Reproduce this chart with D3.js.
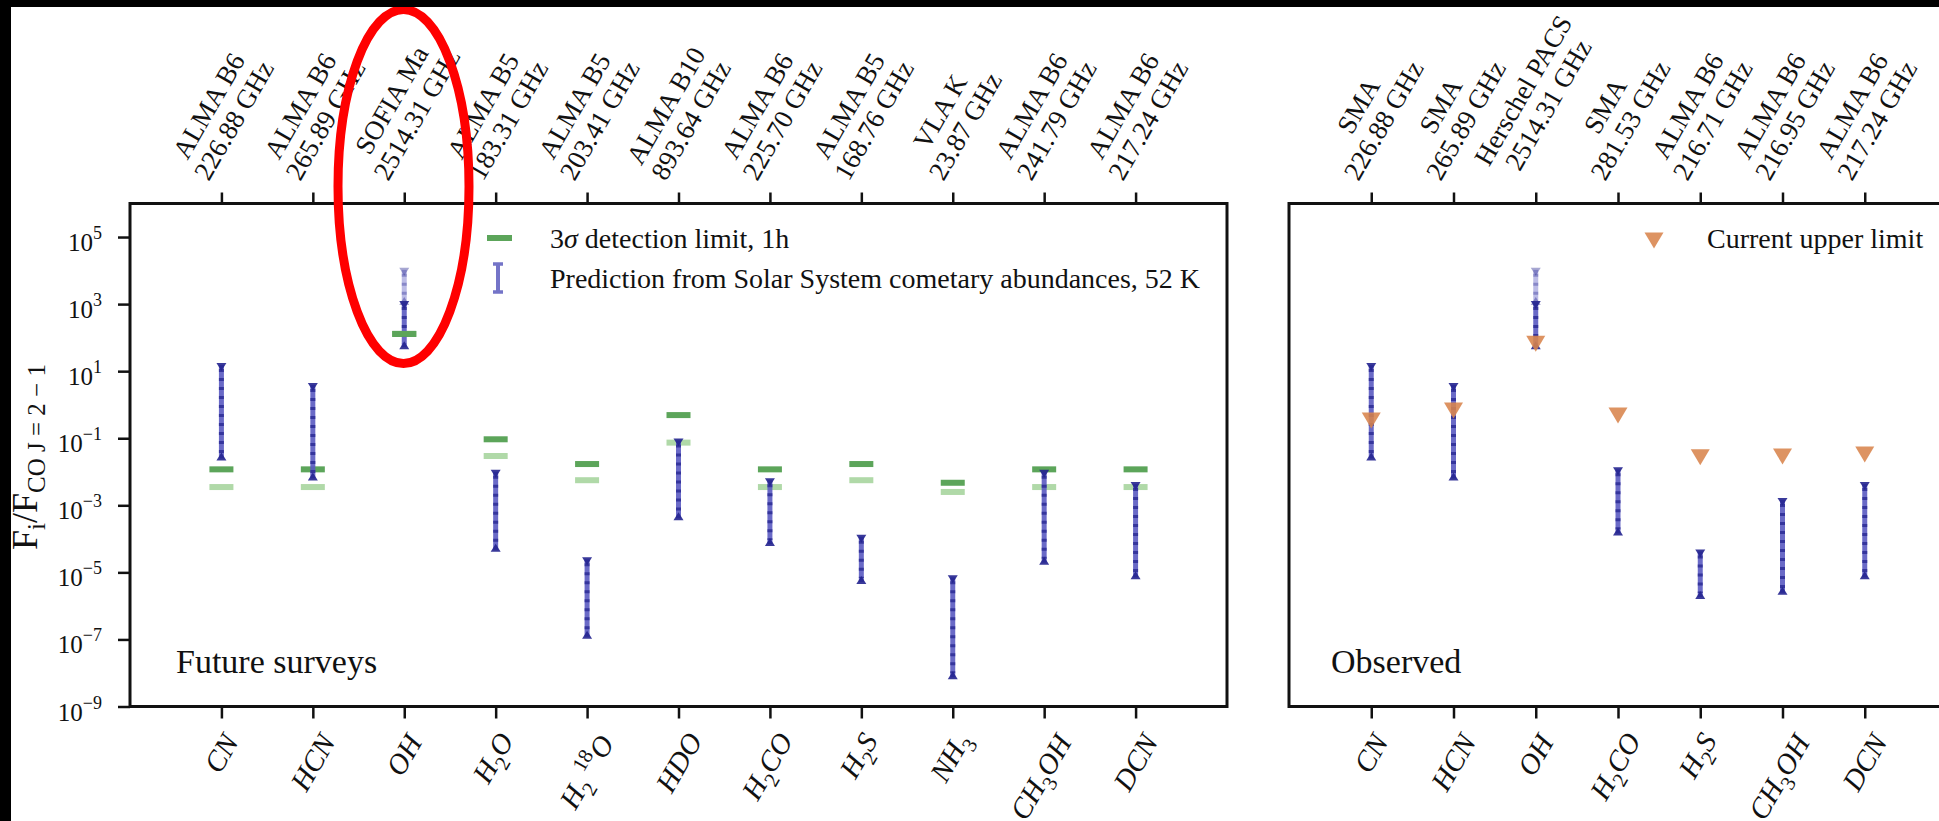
<!DOCTYPE html>
<html>
<head>
<meta charset="utf-8">
<script src="https://cdn.jsdelivr.net/npm/d3@7"></script>
<style>
  body { margin: 0; background: #fff; }
  svg text { font-family: "Liberation Serif", "Times New Roman", serif; fill: #111; }
</style>
</head>
<body>
<svg id="chart" width="1939" height="821"></svg>
<script>
// ---- values ----
const futureMolecules = ["CN", "HCN", "OH", "H2O", "H2_18O", "HDO", "H2CO", "H2S", "NH3", "CH3OH", "DCN"];
const futureInstruments = ["ALMA B6", "ALMA B6", "SOFIA Ma", "ALMA B5", "ALMA B5", "ALMA B10", "ALMA B6", "ALMA B5", "VLA K", "ALMA B6", "ALMA B6"];
const futureFrequencies = ["226.88 GHz", "265.89 GHz", "2514.31 GHz", "183.31 GHz", "203.41 GHz", "893.64 GHz", "225.70 GHz", "168.76 GHz", "23.87 GHz", "241.79 GHz", "217.24 GHz"];
const futureLimit1h = [0.0118, 0.0118, 129, 0.093, 0.017, 0.49, 0.0118, 0.017, 0.0047, 0.0118, 0.0118];
const futureLimitDeep = [0.0035, 0.0035, null, 0.0295, 0.0056, 0.074, 0.0035, 0.0056, 0.0025, 0.0035, 0.0035];
const futurePredLow = [0.025, 0.0063, 52, 4.7e-5, 1.2e-7, 4.1e-4, 7.0e-5, 5.2e-6, 7.4e-9, 1.95e-5, 7.1e-6];
const futurePredHigh = [15.2, 3.9, 1070, 0.010, 2.45e-5, 0.085, 0.0056, 1.15e-4, 7.1e-6, 0.010, 0.0043];
const futurePredExtended = [null, null, 1.05e4, null, null, null, null, null, null, null, null];

const observedMolecules = ["CN", "HCN", "OH", "H2CO", "H2S", "CH3OH", "DCN"];
const observedInstruments = ["SMA", "SMA", "Herschel PACS", "SMA", "ALMA B6", "ALMA B6", "ALMA B6"];
const observedFrequencies = ["226.88 GHz", "265.89 GHz", "2514.31 GHz", "281.53 GHz", "216.71 GHz", "216.95 GHz", "217.24 GHz"];
const observedUpperLimit = [0.35, 0.69, 68, 0.49, 0.028, 0.0295, 0.034];
const observedPredLow = [0.025, 0.0063, 52, 1.45e-4, 1.85e-6, 2.45e-6, 7.1e-6];
const observedPredHigh = [15.2, 3.9, 1070, 0.0118, 4.2e-5, 0.00145, 0.0043];
const observedPredExtended = [null, null, 1.05e4, null, null, null, null];

const yTickValues = [1e-9, 1e-7, 1e-5, 1e-3, 1e-1, 1e1, 1e3, 1e5];
const yTickExponents = ["\u22129", "\u22127", "\u22125", "\u22123", "\u22121", "1", "3", "5"];

// how each molecule name is typeset (sub/superscripts)
const moleculeParts = {
  CN: [["CN"]],
  HCN: [["HCN"]],
  OH: [["OH"]],
  H2O: [["H"], ["2", "sub"], ["O"]],
  H2_18O: [["H"], ["2", "sub"], ["\u2009"], ["18", "sup"], ["O"]],
  HDO: [["HDO"]],
  H2CO: [["H"], ["2", "sub"], ["CO"]],
  H2S: [["H"], ["2", "sub"], ["S"]],
  NH3: [["NH"], ["3", "sub"]],
  CH3OH: [["CH"], ["3", "sub"], ["OH"]],
  DCN: [["DCN"]]
};

const svg = d3.select("#chart");
const W = 1939, H = 821;
const TOP = 203.5, BOTTOM = 706.5;

svg.append("rect").attr("width", W).attr("height", H).attr("fill", "#fff");

const y = d3.scaleLog().domain([1e-9, 1e6]).range([BOTTOM, TOP]);
const xFuture = d3.scaleLinear().domain([-1, futureMolecules.length]).range([130, 1227]);
const xObserved = d3.scaleLinear().domain([-1, observedMolecules.length]).range([1289, 1947]);

const colors = {
  limit: "#5ca55a",
  limitDeep: "#b0d9a8",
  predLine: "#5a5ac2",
  predDots: "#24248f",
  upper: "#d8844c"
};

function addSegments(text, parts, size) {
  let shift = 0;
  parts.forEach(([s, kind]) => {
    const target = kind === "sub" ? size * 0.28 : kind === "sup" ? -size * 0.42 : 0;
    text.append("tspan")
      .attr("dy", target - shift)
      .attr("font-size", kind ? size * 0.72 : size)
      .attr("font-style", /\d/.test(s) ? "normal" : "italic")
      .text(s);
    shift = target;
  });
}

// rotated label whose (rotated) bounding box is centred on x and touches yEdge
function rotatedLabel(parent, x, yEdge, side, build) {
  const outer = parent.append("g");
  const inner = outer.append("g").attr("transform", "rotate(-60)");
  build(inner);
  const bb = outer.node().getBBox();
  const dx = x - (bb.x + bb.width / 2);
  const dy = side === "bottom" ? yEdge - (bb.y + bb.height) : yEdge - bb.y;
  outer.attr("transform", `translate(${dx},${dy})`);
}

function drawPanel(x, n, molecules, instruments, frequencies, withYAxis) {
  const g = svg.append("g");
  const idx = d3.range(n);

  const styleTicks = a => {
    a.select(".domain").remove();
    a.selectAll("line").attr("stroke", "#111").attr("stroke-width", 2.5);
  };

  g.append("g").attr("transform", `translate(0,${TOP})`)
    .call(d3.axisTop(x).tickValues(idx).tickSize(11).tickFormat(""))
    .call(styleTicks);
  g.append("g").attr("transform", `translate(0,${BOTTOM})`)
    .call(d3.axisBottom(x).tickValues(idx).tickSize(12).tickFormat(""))
    .call(styleTicks);

  if (withYAxis) {
    g.append("g").attr("transform", `translate(${x(-1)},0)`)
      .call(d3.axisLeft(y).tickValues(yTickValues).tickSize(12).tickFormat(""))
      .call(styleTicks);
    yTickValues.forEach((v, i) => {
      const t = g.append("text").attr("x", 102).attr("y", y(v) + 14)
        .attr("text-anchor", "end").attr("font-size", 25);
      t.append("tspan").text("10");
      t.append("tspan").attr("dy", -12).attr("font-size", 18).text(yTickExponents[i]);
    });
  }

  g.append("rect")
    .attr("x", x(-1)).attr("y", TOP)
    .attr("width", x(n) - x(-1)).attr("height", BOTTOM - TOP)
    .attr("fill", "none").attr("stroke", "#111").attr("stroke-width", 3);

  // instrument / frequency labels on top
  idx.forEach(i => {
    rotatedLabel(g, x(i), 185, "bottom", inner => {
      [instruments[i], frequencies[i]].forEach((line, k) => {
        inner.append("text").attr("x", 0).attr("y", k * 29)
          .attr("text-anchor", "middle").attr("font-size", 27).text(line);
      });
    });
  });

  // molecule labels at the bottom
  idx.forEach(i => {
    rotatedLabel(g, x(i), 727, "top", inner => {
      const t = inner.append("text").attr("text-anchor", "middle");
      addSegments(t, moleculeParts[molecules[i]], 29);
    });
  });

  return g;
}

function drawPrediction(g, cx, lo, hi, alpha) {
  const y0 = y(hi), y1 = y(lo);
  g.append("line").attr("x1", cx).attr("x2", cx).attr("y1", y0).attr("y2", y1)
    .attr("stroke", colors.predLine).attr("stroke-width", 5).attr("opacity", alpha * 0.9);
  g.append("line").attr("x1", cx).attr("x2", cx).attr("y1", y0 + 4).attr("y2", y1 - 4)
    .attr("stroke", colors.predDots).attr("stroke-width", 5)
    .attr("stroke-dasharray", "3 6").attr("opacity", alpha * 0.75);
  g.append("path")
    .attr("d", `M${cx - 5},${y0 - 2}h10l-5,8z M${cx - 5},${y1 + 2}h10l-5,-8z`)
    .attr("fill", colors.predDots).attr("opacity", alpha * 0.9);
}

function drawLimit(g, cx, v, color) {
  g.append("rect").attr("x", cx - 12).attr("y", y(v) - 3).attr("width", 24).attr("height", 6)
    .attr("fill", color);
}

function drawUpper(g, cx, cy) {
  g.append("path")
    .attr("d", `M${cx - 9.5},${cy - 7.5}L${cx + 9.5},${cy - 7.5}L${cx},${cy + 8.5}Z`)
    .attr("fill", colors.upper).attr("opacity", 0.88);
}

// ---- left panel: future surveys ----
const left = drawPanel(xFuture, futureMolecules.length, futureMolecules, futureInstruments, futureFrequencies, true);
futureMolecules.forEach((m, i) => {
  const cx = xFuture(i);
  if (futureLimitDeep[i] !== null) drawLimit(left, cx, futureLimitDeep[i], colors.limitDeep);
  drawLimit(left, cx, futureLimit1h[i], colors.limit);
  if (futurePredExtended[i] !== null) drawPrediction(left, cx, futurePredHigh[i], futurePredExtended[i], 0.45);
  drawPrediction(left, cx, futurePredLow[i], futurePredHigh[i], 1);
});
// OH limit sits on top of the bar
drawLimit(left, xFuture(2), futureLimit1h[2], colors.limit);

// legend
left.append("rect").attr("x", 487).attr("y", 235).attr("width", 25).attr("height", 6).attr("fill", colors.limit);
left.append("line").attr("x1", 498).attr("x2", 498).attr("y1", 264).attr("y2", 292)
  .attr("stroke", "#7474c8").attr("stroke-width", 4);
left.append("path").attr("d", "M493,264h10M493,292h10").attr("stroke", "#7474c8").attr("stroke-width", 3.5);
const lg1 = left.append("text").attr("x", 550).attr("y", 248).attr("font-size", 28);
lg1.append("tspan").text("3");
lg1.append("tspan").attr("font-style", "italic").text("\u03c3");
lg1.append("tspan").text(" detection limit, 1h");
left.append("text").attr("x", 550).attr("y", 288).attr("font-size", 28)
  .text("Prediction from Solar System cometary abundances, 52 K");

left.append("text").attr("x", 176).attr("y", 673).attr("font-size", 34).text("Future surveys");

// ---- right panel: observed ----
const right = drawPanel(xObserved, observedMolecules.length, observedMolecules, observedInstruments, observedFrequencies, false);
observedMolecules.forEach((m, i) => {
  const cx = xObserved(i);
  if (observedPredExtended[i] !== null) drawPrediction(right, cx, observedPredHigh[i], observedPredExtended[i], 0.45);
  drawPrediction(right, cx, observedPredLow[i], observedPredHigh[i], 1);
  drawUpper(right, cx, y(observedUpperLimit[i]));
});
drawUpper(right, 1654, 240);
right.append("text").attr("x", 1707).attr("y", 248).attr("font-size", 28).text("Current upper limit");
right.append("text").attr("x", 1331).attr("y", 673).attr("font-size", 34).text("Observed");

// ---- y label ----
const yl = svg.append("text").attr("transform", "translate(37,457) rotate(-90)")
  .attr("text-anchor", "middle").attr("font-size", 36);
yl.append("tspan").text("F");
yl.append("tspan").attr("dy", 8).attr("font-size", 25).text("i");
yl.append("tspan").attr("dy", -8).text("/F");
yl.append("tspan").attr("dy", 8).attr("font-size", 25).text("CO J = 2 \u2212 1");

// ---- annotation ellipse and black borders of the screenshot ----
svg.append("ellipse").attr("cx", 403.5).attr("cy", 186.5).attr("rx", 65.5).attr("ry", 177)
  .attr("fill", "none").attr("stroke", "#ff0000").attr("stroke-width", 9);
svg.append("rect").attr("x", 0).attr("y", 0).attr("width", W).attr("height", 7).attr("fill", "#000");
svg.append("rect").attr("x", 0).attr("y", 0).attr("width", 11).attr("height", H).attr("fill", "#000");
</script>
</body>
</html>
